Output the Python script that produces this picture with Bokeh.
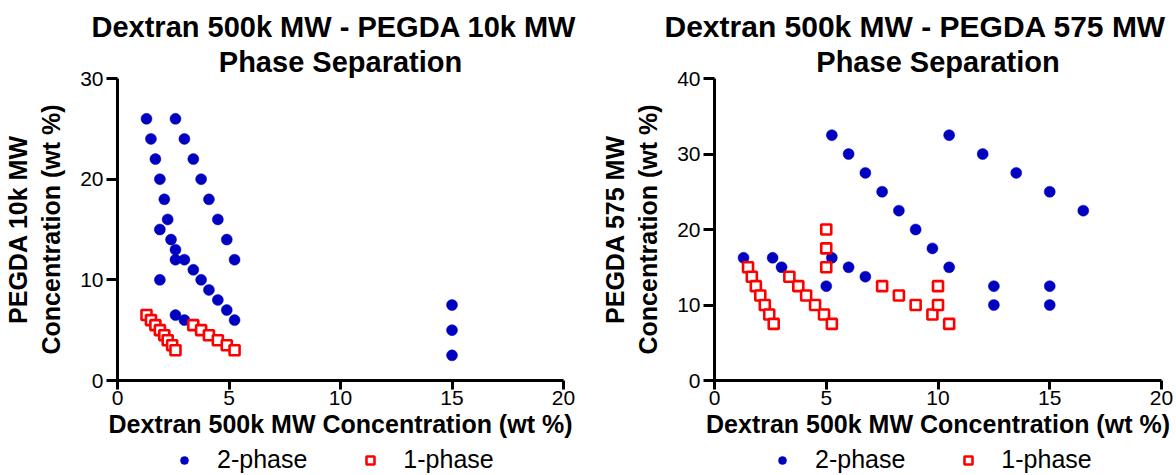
from bokeh.plotting import figure
from bokeh.models import Range1d, FixedTicker, Title, Legend, LegendItem, ColumnDataSource
from bokeh.layouts import row, column
from bokeh.embed import file_html
from bokeh.resources import INLINE

FONT = "Liberation Sans"
BLUE = "#0000C0"
RED = "#FF0000"

# ---- Left chart: Dextran 500k MW - PEGDA 10k MW ----
left_two_x = [1.3, 1.5, 1.7, 1.9, 2.1, 2.25, 1.9, 2.4, 2.6, 2.6, 1.9,
              2.6, 3.0, 3.4, 3.75, 4.1, 4.5, 4.9, 5.25,
              3.0, 3.4, 3.75, 4.1, 4.5, 4.9, 5.25,
              2.6, 3.0, 15, 15, 15]
left_two_y = [26, 24, 22, 20, 18, 16, 15, 14, 13, 12, 10,
              26, 24, 22, 20, 18, 16, 14, 12,
              12, 11, 10, 9, 8, 7, 6,
              6.5, 6, 7.5, 5, 2.5]
left_one_x = [1.3, 1.5, 1.7, 1.9, 2.1, 2.25, 2.45, 2.6,
              3.4, 3.75, 4.1, 4.5, 4.9, 5.25]
left_one_y = [6.5, 6, 5.5, 5, 4.5, 4, 3.5, 3,
              5.5, 5, 4.5, 4, 3.5, 3]

# ---- Right chart: Dextran 500k MW - PEGDA 575 MW ----
right_two_x = [1.3, 2.6, 3.0, 5.0, 5.25, 6.0, 6.75,
               5.25, 6.0, 6.75, 7.5, 8.25, 9.0, 9.75, 10.5,
               10.5, 12, 13.5, 15, 16.5,
               12.5, 12.5, 15, 15]
right_two_y = [16.25, 16.25, 15, 12.5, 16.25, 15, 13.75,
               32.5, 30, 27.5, 25, 22.5, 20, 17.5, 15,
               32.5, 30, 27.5, 25, 22.5,
               12.5, 10, 12.5, 10]
right_one_x = [1.5, 1.67, 1.85, 2.05, 2.25, 2.45, 2.65,
               3.35, 3.75, 4.1, 4.5, 4.9, 5.25,
               5, 5, 5,
               7.5, 8.25, 9, 9.75, 10, 10, 10.5]
right_one_y = [15, 13.75, 12.5, 11.25, 10, 8.75, 7.5,
               13.75, 12.5, 11.25, 10, 8.75, 7.5,
               20, 17.5, 15,
               12.5, 11.25, 10, 8.75, 12.5, 10, 7.5]

x_ticks = [0, 5, 10, 15, 20]
left_y_ticks = [0, 10, 20, 30]
right_y_ticks = [0, 10, 20, 30, 40]

title_line1 = ["Dextran 500k MW - PEGDA 10k MW", "Dextran 500k MW - PEGDA 575 MW"]
title_line2 = "Phase Separation"
x_label = "Dextran 500k MW Concentration (wt %)"
y_labels = ["PEGDA 10k MW\nConcentration (wt %)", "PEGDA 575 MW\nConcentration (wt %)"]
legend_labels = ["2-phase", "1-phase"]

MAIN_H = 440
LEG_H = 475 - MAIN_H


def make_chart(two_x, two_y, one_x, one_y, ymax, yticks, t1, ylab,
               border_left, border_right, t1_offset, t1_size, leg_x):
    p = figure(width=588, height=MAIN_H, output_backend="svg", toolbar_location=None,
               x_range=Range1d(0, 20), y_range=Range1d(0, ymax),
               min_border_left=border_left, min_border_right=border_right,
               min_border_top=78, min_border_bottom=60)
    p.outline_line_color = None
    p.grid.visible = False
    p.title.visible = False

    for ax, ticks in ((p.xaxis[0], x_ticks), (p.yaxis[0], yticks)):
        ax.ticker = FixedTicker(ticks=ticks)
        ax.minor_tick_line_color = None
        ax.axis_line_width = 3
        ax.axis_line_color = "black"
        ax.major_tick_line_width = 3
        ax.major_tick_line_color = "black"
        ax.major_tick_in = 0
        ax.major_label_text_font = FONT
        ax.major_label_text_font_size = "21px"
        ax.major_label_text_color = "black"
        ax.axis_label_text_font = FONT
        ax.axis_label_text_font_size = "25px"
        ax.axis_label_text_font_style = "bold"
        ax.axis_label_text_color = "black"
    p.xaxis.major_tick_out = 9
    p.yaxis.major_tick_out = 11
    p.xaxis.major_label_standoff = 1
    p.yaxis.major_label_standoff = 3
    p.xaxis.axis_label = x_label
    p.yaxis.axis_label = ylab
    p.xaxis.axis_label_standoff = 2
    p.yaxis.axis_label_standoff = 12

    src2 = ColumnDataSource(dict(x=two_x, y=two_y))
    src1 = ColumnDataSource(dict(x=one_x, y=one_y))
    p.scatter("x", "y", source=src2, marker="circle", size=11,
              fill_color=BLUE, line_color=BLUE, line_width=0.5)
    p.scatter("x", "y", source=src1, marker="square", size=10,
              fill_color="white", line_color=RED, line_width=2.6)

    tt2 = Title(text=title_line2, align="center", text_font=FONT, text_color="black",
                text_font_size="29px", text_font_style="bold", standoff=2)
    tt1 = Title(text=t1, align="left", text_font=FONT, offset=t1_offset, text_color="black",
                text_font_size=t1_size, text_font_style="bold", standoff=0)
    p.add_layout(tt2, "above")
    p.add_layout(tt1, "above")

    # legend strip below the chart (its frame is aligned with the chart frame)
    lg = figure(width=588, height=LEG_H, output_backend="svg", toolbar_location=None,
                x_range=Range1d(0, 1), y_range=Range1d(0, 1),
                x_axis_location=None, y_axis_location=None,
                min_border_left=0, min_border_right=0,
                min_border_top=0, min_border_bottom=0)
    lg.grid.visible = False
    lg.outline_line_color = None
    lg.title.visible = False
    e2 = lg.scatter(x=[-5], y=[-5], marker="circle", size=10,
                    fill_color=BLUE, line_color=BLUE, line_width=0.5)
    e1 = lg.scatter(x=[-5], y=[-5], marker="square", size=10,
                    fill_color="white", line_color=RED, line_width=2.6)
    legend = Legend(items=[LegendItem(label=legend_labels[0], renderers=[e2]),
                           LegendItem(label=legend_labels[1], renderers=[e1])],
                    orientation="horizontal", location=(leg_x, 1),
                    label_text_font=FONT, label_text_font_size="25px",
                    label_text_color="black",
                    glyph_width=20, label_standoff=23, spacing=53,
                    border_line_color=None, background_fill_alpha=0,
                    padding=0, margin=0)
    lg.add_layout(legend)
    return column(p, lg, spacing=0)


c1 = make_chart(left_two_x, left_two_y, left_one_x, left_one_y, 30, left_y_ticks,
                title_line1[0], y_labels[0], 115, 25, -26, "29px", 57)
c2 = make_chart(right_two_x, right_two_y, right_one_x, right_one_y, 40, right_y_ticks,
                title_line1[1], y_labels[1], 126, 15, -50, "30px", 58)

layout = row(c1, c2, spacing=0)
open("out.html", "w").write(file_html(layout, INLINE))
